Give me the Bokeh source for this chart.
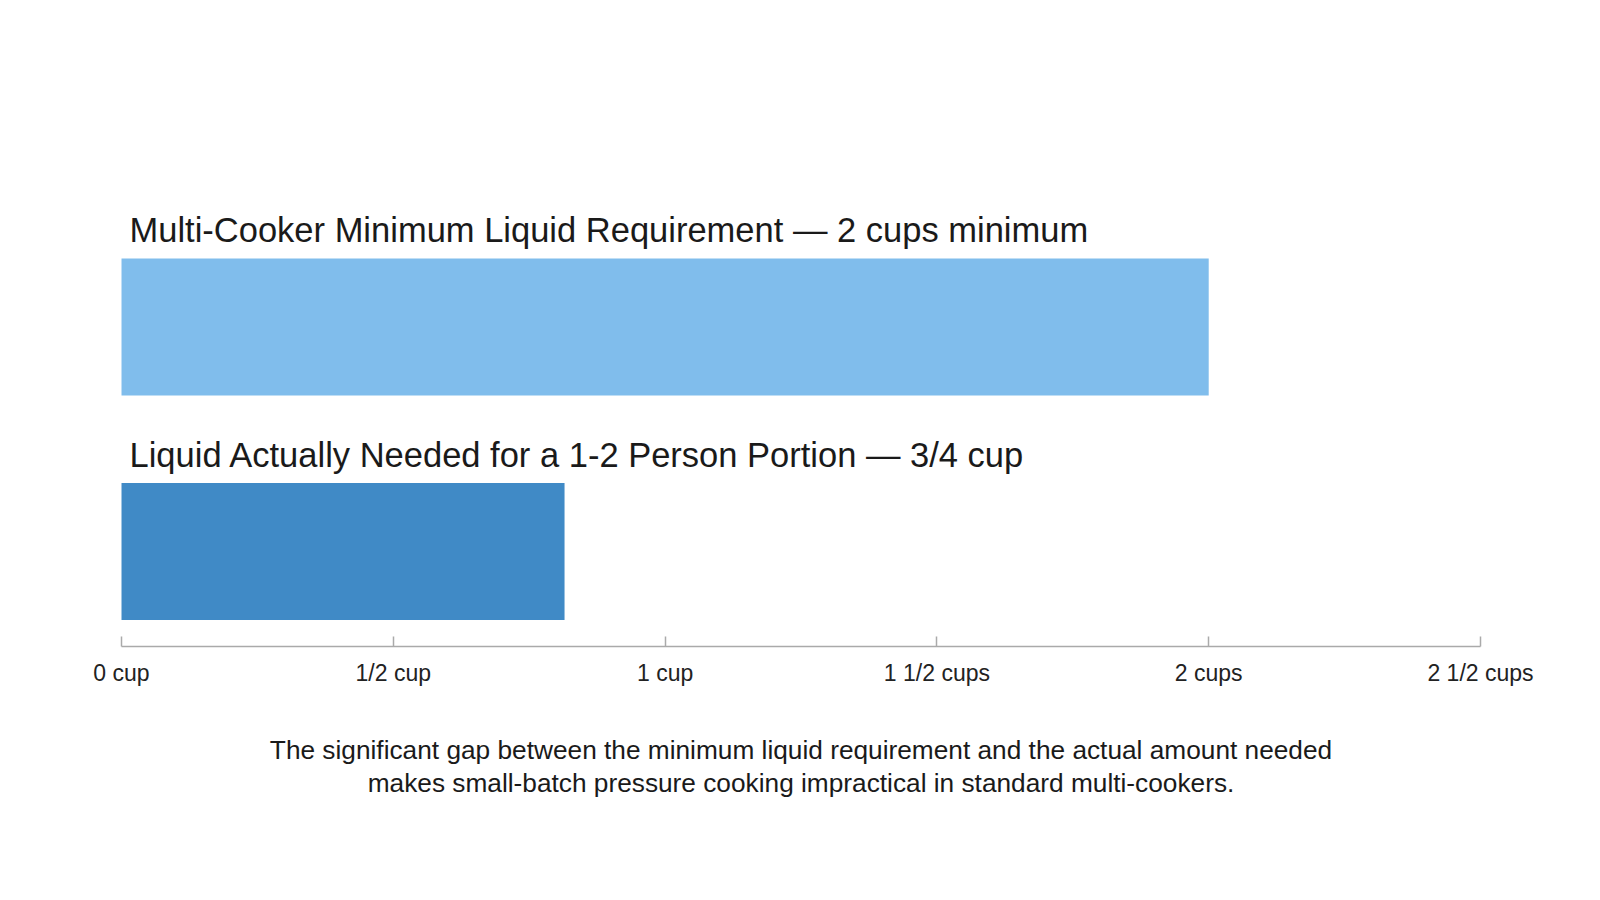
from bokeh.plotting import figure
from bokeh.models import Range1d, LinearAxis, FixedTicker, Label, ColumnDataSource
from bokeh.core.properties import value
from bokeh.embed import file_html
from bokeh.resources import INLINE

# ---- data ----
categories = [
    "Multi-Cooker Minimum Liquid Requirement \u2014 2 cups minimum",
    "Liquid Actually Needed for a 1-2 Person Portion \u2014 3/4 cup",
]
values_cups = [2.0, 0.815]
bar_colors = ["#80bdec", "#408ac6"]
tick_values = [0, 0.5, 1, 1.5, 2, 2.5]
tick_labels = ["0 cup", "1/2 cup", "1 cup", "1 1/2 cups", "2 cups", "2 1/2 cups"]
caption_lines = [
    "The significant gap between the minimum liquid requirement and the actual amount needed",
    "makes small-batch pressure cooking impractical in standard multi-cookers.",
]

FONT = "Liberation Sans"

n = len(categories)
ypos = [float(n - 1 - i) for i in range(n)]  # first category on top

src = ColumnDataSource(dict(
    y=ypos,
    right=values_cups,
    color=bar_colors,
    label=categories,
    label_y=[y + 0.43 for y in ypos],
    zero=[0.0] * n,
))

p = figure(
    width=1584, height=884,
    x_range=Range1d(-0.2226, 2.6913),
    y_range=Range1d(-1.4833, 2.4543),
    x_axis_location=None, y_axis_location=None,
    toolbar_location=None, output_backend="svg",
    min_border_left=0, min_border_right=0,
    min_border_top=0, min_border_bottom=0,
)
p.grid.visible = False
p.outline_line_color = None
p.background_fill_color = "white"
p.border_fill_color = "white"

p.hbar(y="y", left="zero", right="right", height=0.61, color="color",
       line_color=None, source=src)

p.text(x="zero", y="label_y", text="label", source=src,
       text_font=value(FONT), text_font_size="34.5px", text_color="#1a1a1a",
       text_baseline="middle", text_align="left", x_offset=8)

axis = LinearAxis(
    ticker=FixedTicker(ticks=tick_values),
    major_label_overrides={v: l for v, l in zip(tick_values, tick_labels)},
    fixed_location=-0.4232,
    bounds=(tick_values[0], tick_values[-1]),
)
axis.axis_line_color = "#aaaaaa"
axis.axis_line_width = 1.5
axis.major_tick_line_color = "#aaaaaa"
axis.major_tick_line_width = 1.5
axis.major_tick_in = 10
axis.major_tick_out = 0
axis.minor_tick_line_color = None
axis.major_label_standoff = 13
axis.major_label_text_font = FONT
axis.major_label_text_font_size = "23px"
axis.major_label_text_color = "#222222"
p.add_layout(axis, "below")

cap_y = [-0.8864, -1.0290]
for line, yy in zip(caption_lines, cap_y):
    p.add_layout(Label(
        x=1.25, y=yy, text=line, text_align="center", text_baseline="middle",
        text_font=FONT, text_font_size="26.25px", text_color="#1a1a1a",
    ))

open("out.html", "w").write(file_html(p, INLINE))
